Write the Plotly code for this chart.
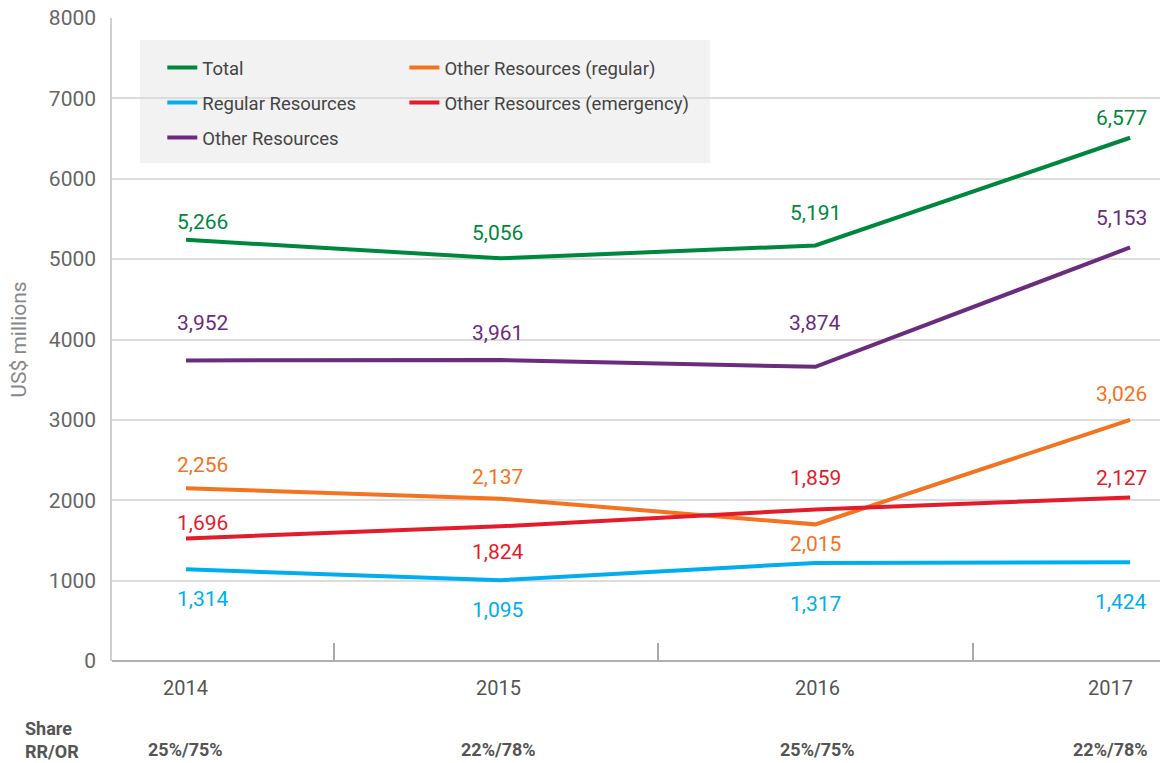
import plotly.graph_objects as go

# values as drawn on the chart (US$ millions) and the printed labels
YEARS = [2014, 2015, 2016, 2017]
TOTAL = [5240, 5010, 5170, 6510]
REGULAR = [1140, 1005, 1220, 1230]
OTHER = [3740, 3745, 3660, 5145]
OTHER_REG = [2150, 2020, 1700, 3000]
OTHER_EMG = [1525, 1675, 1885, 2035]

TOTAL_LBL = [5266, 5056, 5191, 6577]
REGULAR_LBL = [1314, 1095, 1317, 1424]
OTHER_LBL = [3952, 3961, 3874, 5153]
OTHER_REG_LBL = [2256, 2137, 2015, 3026]
OTHER_EMG_LBL = [1696, 1824, 1859, 2127]

SHARE = ["25%/75%", "22%/78%", "25%/75%", "22%/78%"]

FONT = "Roboto"
GREEN, BLUE, PURPLE, ORANGE, RED = "#00873e", "#00aeef", "#6b2c7e", "#f47321", "#e31b2b"

# (name, values, labels, colour, legend, label offsets in px up)
series = [
    ("Total", TOTAL, TOTAL_LBL, GREEN, "legend", [18, 25, 32, 20]),
    ("Regular Resources", REGULAR, REGULAR_LBL, BLUE, "legend", [-30, -30, -41, -40]),
    ("Other Resources", OTHER, OTHER_LBL, PURPLE, "legend", [37, 27, 44, 29]),
    ("Other Resources (regular)", OTHER_REG, OTHER_REG_LBL, ORANGE, "legend2", [23, 22, -20, 26]),
    ("Other Resources (emergency)", OTHER_EMG, OTHER_EMG_LBL, RED, "legend2", [15, -26, 31, 19]),
]
XSHIFT = [17, -3, 0, -9]
AXIS_XSHIFT = [0, -2, 2, -20]   # year / share labels sit a bit left at 2017

fig = go.Figure()
for name, vals, lbls, color, leg, dys in series:
    fig.add_trace(go.Scatter(x=YEARS, y=vals, mode="lines", name=name,
                             line=dict(color=color, width=4), legend=leg,
                             legendgroup=name, hoverinfo="skip"))
    for x, v, lb, dy, dx in zip(YEARS, vals, lbls, dys, XSHIFT):
        fig.add_annotation(x=x, y=v, text=f"{lb:,}", showarrow=False,
                           xshift=dx, yshift=dy,
                           font=dict(family=FONT, size=21, color=color))

# year labels and the Share RR/OR row under the axis
fig.add_annotation(xref="paper", yref="paper", x=-0.085, y=-0.123, xanchor="left",
                   yanchor="middle", align="left", showarrow=False,
                   text="<b>Share</b><br><b>RR/OR</b>",
                   font=dict(family=FONT, size=18, color="#555"))
for x, s, dx in zip(YEARS, SHARE, AXIS_XSHIFT):
    fig.add_annotation(x=x, xref="x", yref="paper", y=-0.042, yanchor="middle",
                       text=str(x), xshift=dx, showarrow=False,
                       font=dict(family=FONT, size=20, color="#555"))
    fig.add_annotation(x=x, xref="x", yref="paper", y=-0.1384, yanchor="middle",
                       text=f"<b>{s}</b>", xshift=dx, showarrow=False,
                       font=dict(family=FONT, size=18, color="#555"))

# grey legend panel
fig.add_shape(type="rect", xref="paper", yref="paper", x0=0.0267, x1=0.5706,
              y0=0.7745, y1=0.9658, fillcolor="#f2f2f2", line_width=0, layer="between")

legend_style = dict(bgcolor="rgba(0,0,0,0)", font=dict(family=FONT, size=18.5, color="#444"),
                    tracegroupgap=8, itemwidth=30, yanchor="top", xanchor="left")

fig.update_layout(
    width=1160, height=763,
    margin=dict(l=112, r=0, t=18, b=102),
    paper_bgcolor="white", plot_bgcolor="white",
    font=dict(family=FONT, color="#555"),
    legend=dict(x=0.048, y=0.952, **legend_style),
    legend2=dict(x=0.279, y=0.952, **legend_style),
    xaxis=dict(range=[2013.765, 2017.095], tickvals=YEARS, showticklabels=False,
               ticks="", showgrid=False, zeroline=False, showline=False,
               minor=dict(tickmode="array", tickvals=[2014.47, 2015.5, 2016.5],
                          ticks="inside", ticklen=18,
                          tickcolor="#aaa", tickwidth=1.5, showgrid=False)),
    yaxis=dict(range=[0, 8000], dtick=1000, showgrid=True, gridcolor="#dcdcdc", gridwidth=1.5,
               zeroline=True, zerolinecolor="#b0b0b0", zerolinewidth=2,
               showline=True, linecolor="#cfcfcf", linewidth=1.5,
               ticks="", ticklabelstandoff=10,
               tickfont=dict(family=FONT, size=21, color="#666"),
               title=dict(text="US$ millions", standoff=16,
                          font=dict(family=FONT, size=21, color="#888"))),
)

fig.write_html("out.html", config={"displayModeBar": False},
               post_script="document.body.style.margin='0';")
